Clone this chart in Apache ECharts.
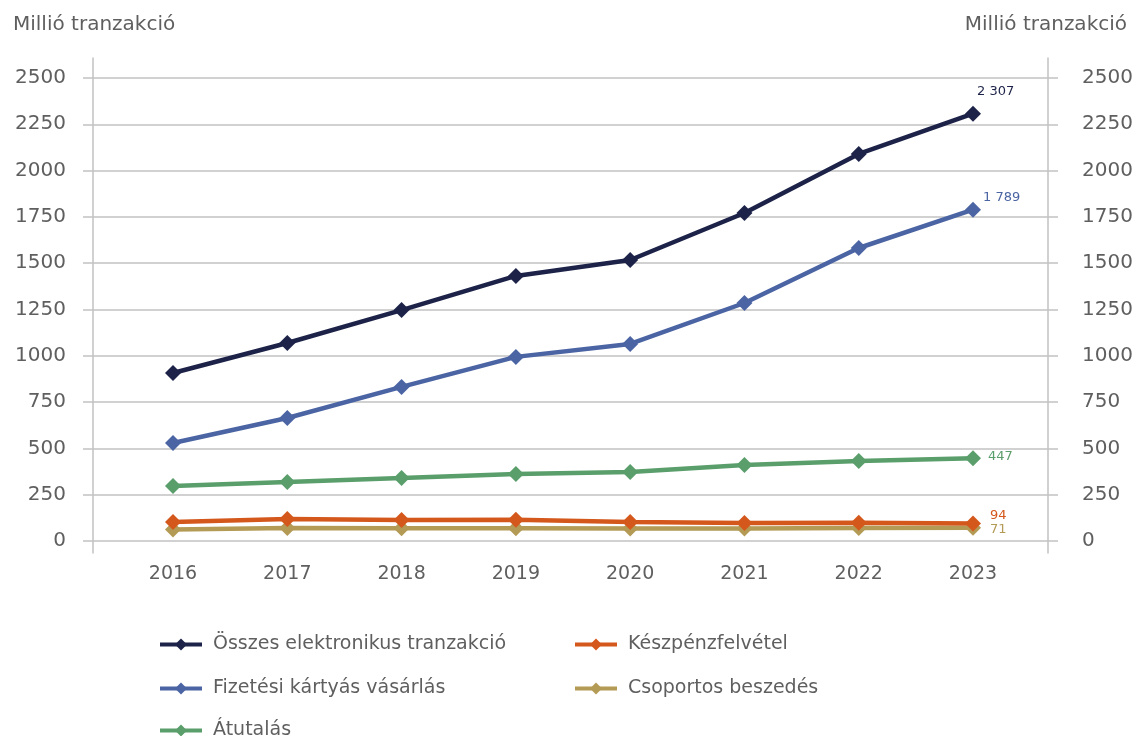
<!DOCTYPE html>
<html>
<head>
<meta charset="utf-8">
<script src="https://cdn.jsdelivr.net/npm/echarts@6/dist/echarts.min.js"></script>
<style>
  html, body { margin: 0; padding: 0; background: #fff; }
  #chart { width: 1137px; height: 736px; }
</style>
</head>
<body>
<div id="chart"></div>
<script>
// Yearly transaction counts (million transactions)
const years = [2016, 2017, 2018, 2019, 2020, 2021, 2022, 2023];
const yTicks = [0, 250, 500, 750, 1000, 1250, 1500, 1750, 2000, 2250, 2500];

const osszes     = [907, 1069, 1247, 1431, 1517, 1771, 2090, 2307];
const fizetesi   = [529, 664, 832, 994, 1064, 1285, 1582, 1789];
const atutalas   = [297, 319, 340, 362, 373, 410, 432, 447];
const keszpenz   = [103, 119, 113, 115, 103, 97, 98, 94];
const csoportos  = [62, 70, 68, 69, 67, 67, 70, 71];

const NAMES = {
  osszes: 'Összes elektronikus tranzakció',
  fizetesi: 'Fizetési kártyás vásárlás',
  atutalas: 'Átutalás',
  keszpenz: 'Készpénzfelvétel',
  csoportos: 'Csoportos beszedés'
};

const FONT = 'DejaVu Sans';
const GRID_COLOR = '#c2c2c2';
const TEXT_COLOR = '#5f5f5f';

function fmt(v) {
  if (v >= 1000) {
    return Math.floor(v / 1000) + ' ' + String(v % 1000).padStart(3, '0');
  }
  return String(v);
}

function makeSeries(name, values, color, labelOffset) {
  const last = values.length - 1;
  return {
    name: name,
    type: 'line',
    data: values.map((v, i) => [years[i], v]),
    symbol: 'diamond',
    symbolSize: 16,
    lineStyle: { color: color, width: 4.5 },
    itemStyle: { color: color },
    emphasis: { disabled: true },
    label: {
      show: true,
      position: labelOffset,
      color: color,
      fontFamily: FONT,
      fontSize: 13,
      formatter: p => (p.dataIndex === last ? fmt(p.value[1]) : '')
    }
  };
}

function yAxisDef(pos, margin) {
  return {
    type: 'value',
    position: pos,
    min: -65,
    max: 2608,
    axisLine: { show: true, lineStyle: { color: GRID_COLOR, width: 1.5 } },
    axisTick: { show: true, length: 10, customValues: yTicks, lineStyle: { color: GRID_COLOR, width: 1.5 } },
    axisLabel: {
      customValues: yTicks,
      formatter: v => String(v),
      margin: margin,
      color: TEXT_COLOR,
      fontFamily: FONT,
      fontSize: 20
    },
    splitLine: { show: pos === 'left', lineStyle: { color: GRID_COLOR, width: 1.5 } }
  };
}

// one legend entry per slot, arranged in two columns
function legendItem(name, left, top) {
  return {
    left: left, top: top,
    itemWidth: 42, itemHeight: 15,
    lineStyle: { width: 4 },
    textStyle: { fontFamily: FONT, fontSize: 19, color: TEXT_COLOR, padding: [0, 0, 0, 6] },
    data: [name]
  };
}

const chart = echarts.init(document.getElementById('chart'));
chart.setOption({
  backgroundColor: '#ffffff',
  animation: false,
  title: [
    {
      text: 'Millió tranzakció', left: 8, top: 10,
      textStyle: { fontFamily: FONT, fontSize: 20, fontWeight: 'normal', color: TEXT_COLOR }
    },
    {
      text: 'Millió tranzakció', right: 5, top: 10,
      textStyle: { fontFamily: FONT, fontSize: 20, fontWeight: 'normal', color: TEXT_COLOR }
    }
  ],
  grid: { left: 93, right: 89, top: 58, bottom: 183, containLabel: false, outerBoundsMode: 'none' },
  xAxis: {
    type: 'value',
    min: 2015.3,
    max: 2023.656,
    axisLine: { show: false },
    axisTick: { show: false, customValues: years },
    splitLine: { show: false },
    axisLabel: {
      customValues: years,
      formatter: v => String(v),
      margin: 12,
      color: TEXT_COLOR,
      fontFamily: FONT,
      fontSize: 19
    }
  },
  yAxis: [yAxisDef('left', 27), yAxisDef('right', 34)],
  legend: [
    legendItem(NAMES.osszes, 153, 630),
    legendItem(NAMES.fizetesi, 153, 674),
    legendItem(NAMES.atutalas, 153, 716),
    legendItem(NAMES.keszpenz, 568, 630),
    legendItem(NAMES.csoportos, 568, 674)
  ],
  series: [
    makeSeries(NAMES.csoportos, csoportos, '#b39a55', [25, 3]),
    makeSeries(NAMES.keszpenz, keszpenz, '#d4581c', [25, -6]),
    makeSeries(NAMES.atutalas, atutalas, '#5a9e6b', [23, 0]),
    makeSeries(NAMES.fizetesi, fizetesi, '#4b64a3', [18, -11]),
    makeSeries(NAMES.osszes, osszes, '#1d2348', [12, -21])
  ]
});
</script>
</body>
</html>
